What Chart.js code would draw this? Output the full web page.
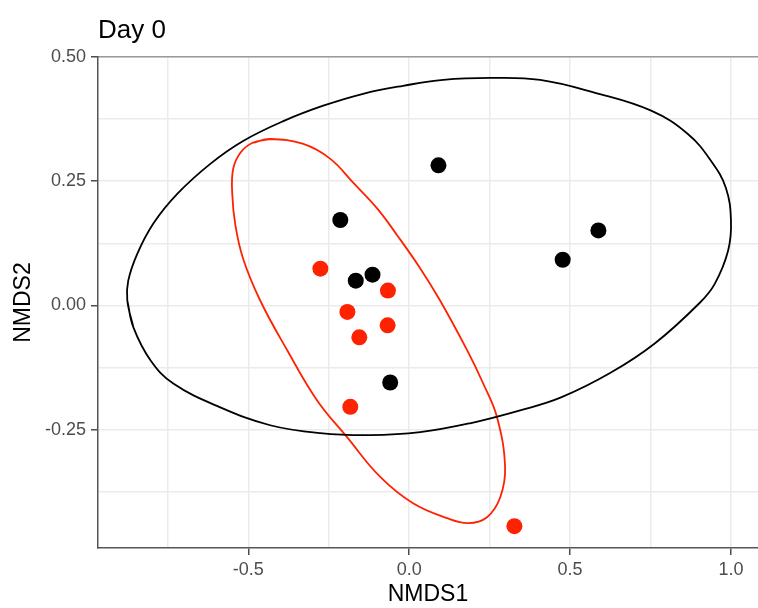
<!DOCTYPE html>
<html lang="en">
<head>
<meta charset="UTF-8">
<title>Day 0</title>
<script src="https://cdn.jsdelivr.net/npm/chart.js"></script>
<style>
  body { margin: 0; background: #fff; overflow: hidden; }
</style>
</head>
<body>
<canvas id="myChart" width="758" height="608"></canvas>
<script>
// points
const blackX = [0.091, -0.214, -0.166, -0.114, -0.059, 0.477, 0.588];
const blackY = [0.282, 0.172, 0.050, 0.062, -0.155, 0.092, 0.151];
const redX = [-0.276, -0.066, -0.192, -0.067, -0.155, -0.183, 0.327];
const redY = [0.074, 0.030, -0.013, -0.040, -0.064, -0.204, -0.444];

// ellipse outlines, traced by eye (last point wraps back to the first)
const blackEllX = [-0.857, -0.876, -0.873, -0.845, -0.795, -0.720, -0.618, -0.516, -0.391, -0.267, -0.143, -0.019, 0.106, 0.252, 0.407, 0.578, 0.752, 0.866, 0.938, 0.984, 1.000, 0.991, 0.950, 0.904, 0.764, 0.627, 0.472, 0.345, 0.189, 0.034, -0.121, -0.276, -0.432, -0.587, -0.733, -0.804, -0.857, -0.876];
const blackEllY = [-0.044, 0.010, 0.050, 0.104, 0.165, 0.225, 0.285, 0.331, 0.371, 0.402, 0.426, 0.442, 0.454, 0.458, 0.454, 0.428, 0.392, 0.345, 0.291, 0.237, 0.171, 0.110, 0.044, 0.006, -0.076, -0.135, -0.185, -0.211, -0.237, -0.255, -0.261, -0.257, -0.241, -0.205, -0.157, -0.110, -0.044, 0.010];
const redEllX = [-0.488, -0.432, -0.329, -0.245, -0.174, -0.099, -0.037, 0.034, 0.096, 0.180, 0.230, 0.273, 0.298, 0.283, 0.242, 0.183, 0.118, 0.012, -0.090, -0.193, -0.286, -0.379, -0.463, -0.516, -0.540, -0.550, -0.547, -0.525, -0.488, -0.432];
const redEllY = [0.327, 0.335, 0.325, 0.295, 0.247, 0.195, 0.141, 0.075, 0.010, -0.090, -0.157, -0.225, -0.325, -0.386, -0.426, -0.438, -0.428, -0.398, -0.345, -0.265, -0.191, -0.090, 0.010, 0.094, 0.161, 0.227, 0.275, 0.307, 0.327, 0.335];

// ticks
const xTicks = [-0.75, -0.5, -0.25, 0, 0.25, 0.5, 0.75, 1.0];
const xLabels = {'-0.5': '-0.5', '0': '0.0', '0.5': '0.5', '1': '1.0'};
const yTicks = [-0.375, -0.25, -0.125, 0, 0.125, 0.25, 0.375, 0.5];
const yLabels = {'-0.25': '-0.25', '0': '0.00', '0.25': '0.25', '0.5': '0.50'};

const zip = (xs, ys) => xs.map((x, i) => ({x: x, y: ys[i]}));

const RED = '#ff2200';
const FONT = "'Liberation Sans', Arial, sans-serif";

const data = {
  datasets: [
    { data: zip(blackX, blackY), backgroundColor: '#000', pointRadius: 8, pointBorderWidth: 0 },
    { data: zip(redX, redY), backgroundColor: RED, pointRadius: 8, pointBorderWidth: 0 },
    { data: zip(blackEllX, blackEllY), showLine: true, tension: 0.4, borderColor: '#000', borderWidth: 1.8, pointRadius: 0 },
    { data: zip(redEllX, redEllY), showLine: true, tension: 0.4, borderColor: RED, borderWidth: 1.8, pointRadius: 0 }
  ]
};

const config = {
  type: 'scatter',
  data: data,
  options: {
    responsive: false,
    animation: false,
    layout: { padding: 0, autoPadding: false },
    plugins: { legend: false, tooltip: { enabled: false } },
    scales: {
      x: {
        min: -0.967, max: 1.084,
        afterBuildTicks: s => { s.ticks = xTicks.map(v => ({value: v})); },
        afterFit: s => { s.height = 60; },
        ticks: {
          callback: v => xLabels[String(v)] || '',
          color: '#4d4d4d', font: { family: FONT, size: 18 }, padding: 4, maxRotation: 0, autoSkip: false
        },
        grid: {
          color: '#ebebeb', lineWidth: 1.5, tickLength: 7, tickWidth: 1.5,
          tickColor: c => (String(c.tick && c.tick.value) in xLabels) ? '#4d4d4d' : 'rgba(0,0,0,0)'
        },
        border: { color: '#555', width: 1.5 },
        title: { display: true, text: 'NMDS1', color: '#000', font: { family: FONT, size: 23 }, padding: { top: 0, bottom: 0 } }
      },
      x2: {
        position: 'top',
        min: -0.967, max: 1.084,
        afterFit: s => { s.height = 57; },
        ticks: { display: false },
        grid: { display: false },
        border: { color: '#9a9a9a', width: 1.5 },
        title: { display: true, text: 'Day 0', align: 'start', color: '#000', font: { family: FONT, size: 26 }, padding: { top: 15, bottom: 0 } }
      },
      y: {
        min: -0.488, max: 0.5,
        afterBuildTicks: s => { s.ticks = yTicks.map(v => ({value: v})); },
        afterFit: s => { s.width = 98; },
        ticks: {
          callback: v => yLabels[String(v)] || '',
          color: '#4d4d4d', font: { family: FONT, size: 18 }, padding: 5
        },
        grid: {
          color: '#ebebeb', lineWidth: 1.5, tickLength: 7, tickWidth: 1.5,
          tickColor: c => (String(c.tick && c.tick.value) in yLabels) ? '#4d4d4d' : 'rgba(0,0,0,0)'
        },
        border: { color: '#555', width: 1.5 },
        title: { display: true, text: 'NMDS2', color: '#000', font: { family: FONT, size: 23 }, padding: { top: 10, bottom: 0 } }
      }
    }
  }
};

const chart = new Chart(document.getElementById('myChart'), config);
</script>
</body>
</html>
